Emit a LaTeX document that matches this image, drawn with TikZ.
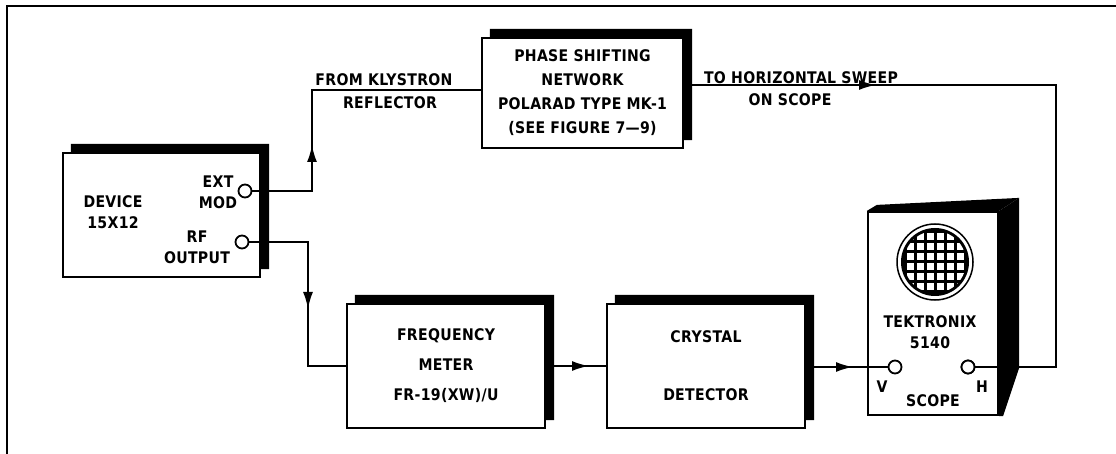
\documentclass[tikz,border=0pt]{standalone}
\usepackage{fontspec}
\setsansfont{DejaVu Sans}[LetterSpace=2,FakeStretch=0.88]
\usetikzlibrary{arrows.meta,calc}
\tikzset{
  unitbox/.style={draw,line width=2.2pt,inner sep=0pt,fill=white},
  port/.style={circle,draw,line width=1.8pt,fill=white,inner sep=0pt,minimum size=13pt},
  wire/.style={line width=2pt},
  tip/.style={line width=2pt,-{Latex[length=17pt,width=10pt]}},
  lbl/.style={font=\sffamily\bfseries\fontsize{16}{21}\selectfont,inner sep=0pt,align=center},
}
% sombra preta em cima e a direita
\newcommand\boxshade[1]{\fill ($(#1.north west)+(9,-8)$) -- ($(#1.north east)+(8,-8)$)
  -- ($(#1.south east)+(8,-9)$) -- ($(#1.south east)+(0,-9)$) -- (#1.north east)
  -- ($(#1.north west)+(9,0)$) -- cycle;}
\begin{document}
\begin{tikzpicture}[x=1pt,y=-1pt]
  \useasboundingbox[fill=white] (0,0) rectangle (1116,454);
%moldura
  \draw[line width=1.6pt] (7,454) -- (7,6) -- (1116,6);
%blocos
  \node[unitbox,minimum width=197,minimum height=124] (dev) at (161.5,215) {};
  \node[unitbox,minimum width=201,minimum height=110,lbl,font=\sffamily\bfseries\fontsize{16}{24}\selectfont] (phase) at (582.5,93)
    {PHASE SHIFTING\\NETWORK\\POLARAD TYPE MK-1\\(SEE FIGURE 7—9)};
  \node[unitbox,minimum width=198,minimum height=124,lbl,font=\sffamily\bfseries\fontsize{16}{30}\selectfont] (freq) at (446,366)
    {FREQUENCY\\METER\\FR-19(XW)/U};
  \node[unitbox,minimum width=198,minimum height=124,lbl,font=\sffamily\bfseries\fontsize{16}{29}\selectfont] (xtal) at (706,366)
    {CRYSTAL\\[29pt]DETECTOR};
  \node[unitbox,minimum width=130,minimum height=203] (scope) at (933,313.5) {};
  \boxshade{dev}
  \boxshade{phase}
  \boxshade{freq}
  \boxshade{xtal}
%osciloscopio
  \fill (scope.north west) -- ++(10,-6) -- ($(scope.north east)+(20,-13)$) -- (scope.north east) -- cycle;
  \coordinate (screen) at (935,262);
  \draw[line width=1.5pt] (screen) circle (38);
  \fill (screen) circle (34);
  \begin{scope}
    \clip (screen) circle (31);
    \foreach \i in {-3,...,2}
      \foreach \j in {-3,...,2}
        \fill[white] ($(screen)+(\i*10+1.5,\j*10+1.5)$) rectangle ++(7,7);
  \end{scope}
%terminais
  \node[port] (extmod) at (245,191) {};
  \node[port] (rfout) at (242,242) {};
  \node[port] (vport) at (895,367) {};
  \node[port] (hport) at (968,367) {};
%ligacoes
  \coordinate (a1) at (312,145);
  \coordinate (kly) at (312,90);
  \coordinate (a2) at (308,309);
  \coordinate (a3) at (589,366);
  \coordinate (a4) at (853,367);
  \coordinate (a5) at (876,85);
  \coordinate (turn) at (1056,85);
  \draw[wire] (extmod.east) -| (kly) -- (phase.west |- kly);
  \draw[tip] ($(a1)+(0,16)$) -- (a1);
  \draw[wire] (rfout.east) -| (a2) |- (freq.west);
  \draw[tip] ($(a2)+(0,-16)$) -- (a2);
  \draw[wire] (freq.east) -- (xtal.west);
  \draw[tip] ($(a3)+(-16,0)$) -- (a3);
  \draw[wire] (xtal.east |- vport) -- (vport.west);
  \draw[tip] ($(a4)+(-16,0)$) -- (a4);
  \draw[wire] (phase.east |- turn) -- (turn) |- (hport.east);
  \draw[tip] ($(a5)+(-16,0)$) -- (a5);
  \fill (scope.north east) -- ++(20,-13) -- ($(scope.south east)+(20,-48)$)
    -- ($(scope.south east)+(4,0)$) -- (scope.south east) -- cycle;
  \node[port] at (hport) {};
%rotulos
  \node[lbl] (klylbl) at (384,80) {FROM KLYSTRON};
  \node[lbl] (refllbl) at (390,103) {REFLECTOR};
  \node[lbl] (sweeplbl) at (801,78) {TO HORIZONTAL SWEEP};
  \node[lbl] (onlbl) at (790,100) {ON SCOPE};
  \node[lbl] (devlbl) at (113,212) {DEVICE\\15X12};
  \node[lbl] (extlbl) at (218,192) {EXT\\MOD};
  \node[lbl] (rflbl) at (197,247) {RF\\OUTPUT};
  \node[lbl] (teklbl) at (930,332) {TEKTRONIX\\5140};
  \node[lbl] (vlbl) at (882,387) {V};
  \node[lbl] (hlbl) at (982,387) {H};
  \node[lbl] (scopelbl) at (933,401) {SCOPE};
\end{tikzpicture}
\end{document}
